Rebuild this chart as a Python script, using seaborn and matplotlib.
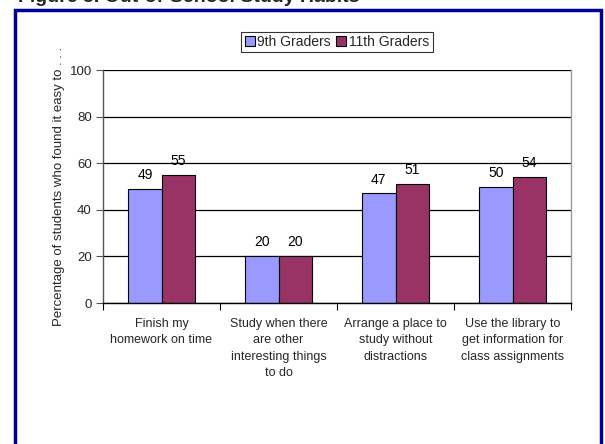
import matplotlib
matplotlib.use("Agg")
import matplotlib.pyplot as plt
import seaborn as sns
import pandas as pd
from matplotlib.patches import Rectangle
from matplotlib.ticker import FixedLocator

categories = [
    "Finish my\nhomework on time",
    "Study when there\nare other\ninteresting things\nto do",
    "Arrange a place to\nstudy without\ndistractions",
    "Use the library to\nget information for\nclass assignments",
]
series = ["9th Graders", "11th Graders"]
values_9th = [49, 20, 47, 50]
values_11th = [55, 20, 51, 54]
colors = ["#9999FF", "#993366"]
title = "Figure 5. Out-of-School Study Habits"
ylabel = "Percentage of students who found it easy to . . ."
yticks = [0, 20, 40, 60, 80, 100]

df = pd.DataFrame({
    "category": categories * 2,
    "grade": [series[0]] * 4 + [series[1]] * 4,
    "value": values_9th + values_11th,
})

sns.set_style("white")
plt.rcParams["font.family"] = ["Liberation Sans", "DejaVu Sans"]

fig = plt.figure(figsize=(6.05, 4.44), dpi=100)
ax = fig.add_axes([103 / 605, 1 - 303 / 444, 468 / 605, 233 / 444])

sns.barplot(data=df, x="category", y="value", hue="grade", order=categories,
            hue_order=series, palette=colors, width=0.57, ax=ax,
            edgecolor="black", linewidth=0.8, saturation=1, legend=True)

for cont in ax.containers:
    ax.bar_label(cont, fmt="%d", padding=5, fontsize=10, color="black")

ax.set_ylim(0, 100)
ax.set_xlim(-0.5, 3.5)
ax.set_yticks(yticks)
ax.tick_params(axis="y", labelsize=9.5, length=5, width=0.8, color="#555555",
               direction="out", left=True, pad=3)
ax.yaxis.grid(True, color="black", linewidth=0.9)
ax.set_axisbelow(True)

ax.tick_params(axis="x", which="major", length=0, labelsize=9, pad=10.5)
ax.xaxis.set_minor_locator(FixedLocator([-0.5, 0.5, 1.5, 2.5, 3.5]))
ax.tick_params(axis="x", which="minor", length=5, width=0.8, color="black",
               direction="out", bottom=True)
for lbl in ax.get_xticklabels():
    lbl.set_linespacing(1.5)

ax.set_xlabel("")
ax.set_ylabel(ylabel, fontsize=9.5)
ax.yaxis.set_label_coords(-0.081, 0.5)

for side in ["left", "bottom", "right", "top"]:
    ax.spines[side].set_visible(True)
ax.spines["top"].set_visible(False)
ax.spines["left"].set_color("#555555")
ax.spines["left"].set_linewidth(1.0)
ax.spines["bottom"].set_color("black")
ax.spines["bottom"].set_linewidth(1.0)
ax.spines["right"].set_color("#999999")
ax.spines["right"].set_linewidth(1.0)

leg = ax.legend(loc="center", bbox_to_anchor=(0.5, (303 - 42) / 233), ncol=2,
                frameon=True, fontsize=10, handlelength=0.7, handleheight=0.7,
                handletextpad=0.2, columnspacing=0.4, borderpad=0.25,
                fancybox=False, edgecolor="black")
leg.get_frame().set_linewidth(0.8)

fig.add_artist(Rectangle((15 / 605, -0.05), 586 / 605, 1.05 - 10 / 444,
                         transform=fig.transFigure, fill=False,
                         edgecolor="#000099", linewidth=2.5))
fig.text(18 / 605, 1 - 2.5 / 444, title, fontsize=14, fontweight="bold",
         ha="left", va="baseline")

fig.savefig("out.png", dpi=100)
